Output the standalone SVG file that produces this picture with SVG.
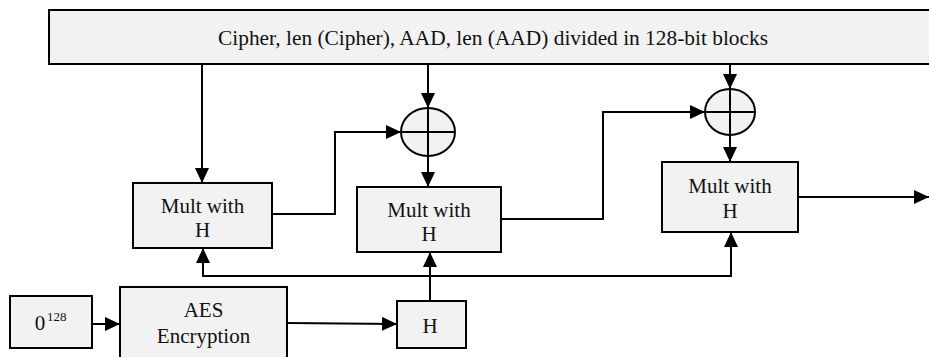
<svg xmlns="http://www.w3.org/2000/svg" width="929" height="357" viewBox="0 0 929 357">
<defs>
<marker id="arr" markerUnits="userSpaceOnUse" markerWidth="15" markerHeight="14" refX="15" refY="7" orient="auto">
<path d="M0,0 L15,7 L0,14 Z" fill="#000"/>
</marker>
</defs>
<style>
.box{fill:#f2f2f2;stroke:#000;stroke-width:2}
text{font-family:'Liberation Serif',serif;fill:#111}
.lbl{font-size:21px;text-anchor:middle}
.sup{font-size:13px}
.c{fill:none;stroke:#000;stroke-width:2}
.ca{fill:none;stroke:#000;stroke-width:2;marker-end:url(#arr)}
</style>
<rect width="929" height="357" fill="#fff"/>
<g id="input">
<rect class="box" x="49" y="10" width="900" height="54"/>
<text class="lbl" x="493" y="45" textLength="550" lengthAdjust="spacingAndGlyphs">Cipher, len (Cipher), AAD, len (AAD) divided in 128-bit blocks</text>
</g>
<g id="xor1">
<ellipse class="box" cx="428" cy="132" rx="27" ry="24"/>
<line class="c" x1="401" y1="132" x2="455" y2="132"/>
<line class="c" x1="428" y1="108" x2="428" y2="156"/>
</g>
<g id="xor2">
<ellipse class="box" cx="730" cy="112" rx="25" ry="23"/>
<line class="c" x1="705" y1="112" x2="755" y2="112"/>
<line class="c" x1="730" y1="89" x2="730" y2="135"/>
</g>
<g id="mult1">
<rect class="box" x="133" y="183" width="139" height="65"/>
<text class="lbl" x="202.5" y="213">Mult with</text>
<text class="lbl" x="202.5" y="237">H</text>
</g>
<g id="mult2">
<rect class="box" x="357" y="187" width="144" height="65"/>
<text class="lbl" x="429" y="217">Mult with</text>
<text class="lbl" x="429" y="241">H</text>
</g>
<g id="mult3">
<rect class="box" x="662" y="162" width="136" height="70"/>
<text class="lbl" x="730" y="193">Mult with</text>
<text class="lbl" x="730" y="218">H</text>
</g>
<g id="zero">
<rect class="box" x="10" y="296" width="82" height="52"/>
<text class="lbl" x="40" y="330">0</text>
<text class="sup" x="47" y="321">128</text>
</g>
<g id="aes">
<rect class="box" x="120" y="287" width="167" height="90"/>
<text class="lbl" x="203.5" y="317">AES</text>
<text class="lbl" x="203.5" y="343">Encryption</text>
</g>
<g id="h">
<rect class="box" x="397" y="301" width="69" height="47"/>
<text class="lbl" x="430" y="333">H</text>
</g>
<g id="connectors">
<line class="ca" x1="202" y1="64" x2="202" y2="183"/>
<line class="ca" x1="428" y1="64" x2="428" y2="108"/>
<line class="ca" x1="428" y1="156" x2="428" y2="187"/>
<polyline class="ca" points="272,214 335,214 335,132 401,132"/>
<line class="ca" x1="730" y1="64" x2="730" y2="89"/>
<line class="ca" x1="730" y1="135" x2="730" y2="162"/>
<polyline class="ca" points="501,219 603,219 603,112 705,112"/>
<line class="ca" x1="798" y1="197" x2="929" y2="197"/>
<line class="ca" x1="92" y1="324" x2="120" y2="324"/>
<line class="ca" x1="287" y1="323" x2="397" y2="324"/>
<line class="ca" x1="430" y1="301" x2="430" y2="252"/>
<polyline class="c" points="203,262 203,276 731,276 731,262"/>
<line class="ca" x1="203" y1="262" x2="203" y2="248"/>
<line class="ca" x1="731" y1="262" x2="731" y2="232"/>
</g>
</svg>
